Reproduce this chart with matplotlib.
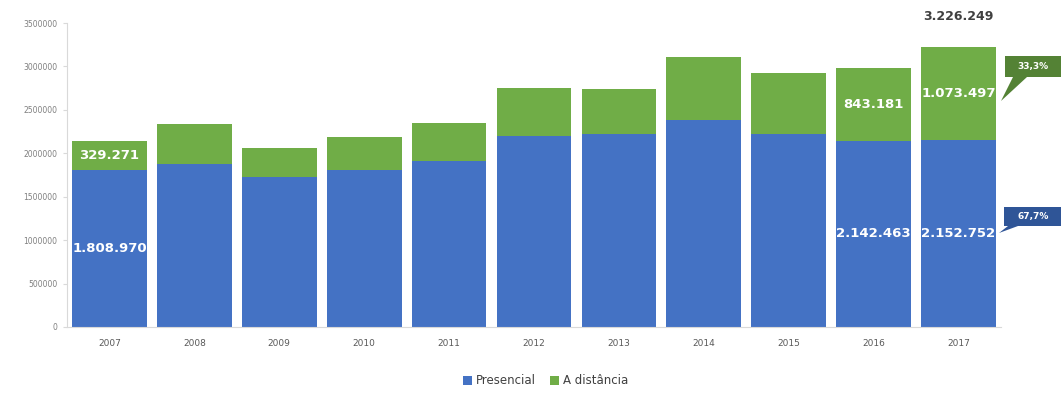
import numpy as np
import matplotlib
matplotlib.use('Agg')
import matplotlib.pyplot as plt
from matplotlib.patches import Polygon

# --- data ---
years = ['2007', '2008', '2009', '2010', '2011', '2012', '2013', '2014', '2015', '2016', '2017']
presencial = [1808970, 1873806, 1732613, 1801901, 1915098, 2203647, 2227786, 2383110, 2225663, 2142463, 2152752]
distancia = [329271, 463093, 332469, 380328, 431597, 542633, 515405, 727738, 694559, 843181, 1073497]
labeled_years = ['2007', '2016', '2017']
share_labels = ['33,3%', '67,7%']
yticks = [0, 500000, 1000000, 1500000, 2000000, 2500000, 3000000, 3500000]

BLUE = '#4472C4'
GREEN = '#70AD47'
W, H = 1061, 403


def fx(px):
    return px / W


def fy(py):
    return 1 - py / H


fig = plt.figure(figsize=(W / 100, H / 100), dpi=100)
ax = fig.add_axes([fx(67), fy(327), fx(1001) - fx(67), fy(23) - fy(327)])

x = np.arange(len(years))
pres = np.array(presencial)
dist = np.array(distancia)
b1 = ax.bar(x, pres, width=0.88, color=BLUE, label='Presencial', zorder=2)
b2 = ax.bar(x, dist, bottom=pres, width=0.88, color=GREEN, label='A distância', zorder=2)

fmt = lambda v: f'{v:,}'.replace(',', '.')
for i, yr in enumerate(years):
    if yr not in labeled_years:
        continue
    ax.text(x[i], pres[i] / 2, fmt(pres[i]), ha='center', va='center',
            color='white', fontsize=9.5, fontweight='bold', zorder=3)
    ax.text(x[i], pres[i] + dist[i] / 2, fmt(dist[i]), ha='center', va='center',
            color='white', fontsize=9.5, fontweight='bold', zorder=3)

# total on top of last bar
total_last = pres[-1] + dist[-1]
ax.text(x[-1], total_last + 345000, fmt(total_last), ha='center', va='center',
        color='#404040', fontsize=9, fontweight='bold', clip_on=False)

ax.set_xlim(-0.5, len(years) - 0.5)
ax.set_ylim(0, 3500000)
ax.set_yticks(yticks)
ax.set_yticklabels([str(v) for v in yticks], fontsize=5.5, color='#7f7f7f')
ax.set_xticks(x)
ax.set_xticklabels(years, fontsize=6.5, color='#595959')
ax.tick_params(axis='y', length=3, color='#d9d9d9', pad=4)
ax.tick_params(axis='x', length=0, pad=9)
for s in ['top', 'right']:
    ax.spines[s].set_visible(False)
ax.spines['left'].set_color('#d9d9d9')
ax.spines['bottom'].set_color('#d9d9d9')

# percentage callouts on the right
green_call = Polygon([(fx(1005), fy(56)), (fx(1061), fy(56)), (fx(1061), fy(77)),
                      (fx(1027), fy(77)), (fx(1001), fy(101)), (fx(1013), fy(77)),
                      (fx(1005), fy(77))], closed=True, transform=fig.transFigure,
                     facecolor='#548235', edgecolor='none')
fig.patches.append(green_call)
fig.text(fx(1033), fy(66.5), share_labels[0], ha='center', va='center',
         color='white', fontsize=6.5, fontweight='bold')

blue_call = Polygon([(fx(1004), fy(207)), (fx(1061), fy(207)), (fx(1061), fy(226)),
                     (fx(1018), fy(226)), (fx(999), fy(233)), (fx(1008), fy(226)),
                     (fx(1004), fy(226))], closed=True, transform=fig.transFigure,
                    facecolor='#2F5597', edgecolor='none')
fig.patches.append(blue_call)
fig.text(fx(1033), fy(216.5), share_labels[1], ha='center', va='center',
         color='white', fontsize=6.5, fontweight='bold')

fig.legend(handles=[b1, b2], loc='center', bbox_to_anchor=(fx(546), fy(381)),
           ncol=2, frameon=False, fontsize=8.5, handlelength=0.7, handleheight=0.7,
           handletextpad=0.4, columnspacing=1.2, labelcolor='#404040')

fig.savefig('out.png', dpi=100)
